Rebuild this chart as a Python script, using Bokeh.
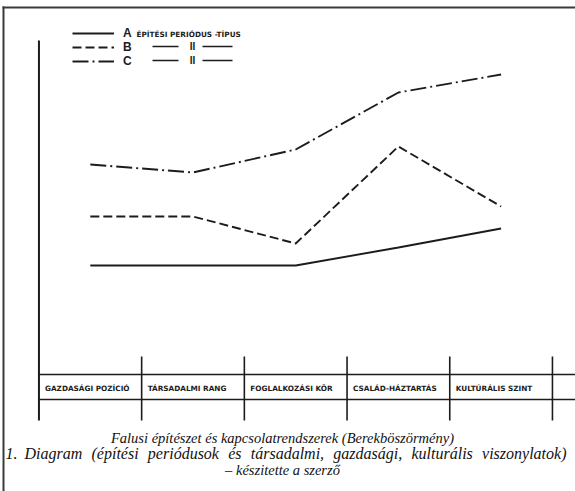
from bokeh.plotting import figure
from bokeh.models import Range1d, Legend, LegendItem
from bokeh.embed import file_html
from bokeh.resources import INLINE
from bokeh.core.properties import value

# ---- data ----
categories = ["GAZDASÁGI POZÍCIÓ", "TÁRSADALMI RANG", "FOGLALKOZÁSI KÖR",
              "CSALÁD-HÁZTARTÁS", "KULTÚRÁLIS SZINT"]
series_a = [11.0, 11.0, 11.0, 12.8, 14.7]
series_b = [15.9, 15.9, 13.2, 22.9, 16.9]
series_c = [21.1, 20.3, 22.6, 28.3, 30.1]
series_names = ["A", "B", "C"]
legend_title = "ÉPÍTÉSI PERIÓDUS -TÍPUS"
caption_lines = [
    "Falusi építészet és kapcsolatrendszerek (Berekböszörmény)",
    "1. Diagram (építési periódusok és társadalmi, gazdasági, kulturális viszonylatok)",
    "– készitette a szerző",
]

# ---- layout helpers (page pixel -> data) ----
W, H = 575, 491
CX, DX = 295.2, 102.7     # page x of category index 2, spacing per category
BASE, UNIT = 375.0, 10.0  # page y of value 0, pixels per unit


def X(px):
    return 2 + (px - CX) / DX


def Y(py):
    return (BASE - py) / UNIT


# approximate Times-Italic advance widths (per 1000 em) for justifying caption line 2
TI = {" ": 250, "(": 333, ")": 333, ",": 250, ".": 250, "1": 500,
      "a": 500, "b": 500, "c": 444, "d": 500, "e": 444, "f": 278, "g": 500, "h": 500,
      "i": 278, "k": 444, "l": 278, "m": 722, "n": 500, "o": 500, "p": 500, "r": 389,
      "s": 389, "t": 278, "u": 500, "v": 444, "y": 444, "z": 389, "D": 722,
      "é": 444, "í": 278, "ó": 500, "á": 500}


def tw(s, size):
    return sum(TI.get(c, 500) for c in s) * size / 1000.0


INK = "#1c1c1c"
idx = list(range(len(categories)))

p = figure(width=W, height=H, output_backend="svg", toolbar_location=None,
           x_range=Range1d(X(0), X(W)), y_range=Range1d(Y(H), Y(0)),
           min_border=0)
p.xaxis.visible = False
p.yaxis.visible = False
p.grid.visible = False
p.outline_line_color = None
p.background_fill_color = "white"
p.border_fill_color = "white"

# frame (top and left)
p.segment(x0=[X(2), X(3)], y0=[Y(7), Y(6)], x1=[X(W), X(3)], y1=[Y(7), Y(H)],
          line_color="#3a3a3a", line_width=2)

# vertical axis and table
bounds = [i - 0.5 for i in range(len(categories) + 1)]
p.segment(x0=[bounds[0]], y0=[Y(40)], x1=[bounds[0]], y1=[Y(420)], line_color=INK, line_width=2)
p.segment(x0=bounds[1:], y0=[Y(356)] * (len(bounds) - 1), x1=bounds[1:],
          y1=[Y(420)] * (len(bounds) - 1), line_color=INK, line_width=1.6)
p.segment(x0=[bounds[0]] * 2, y0=[Y(374), Y(399)], x1=[X(W)] * 2, y1=[Y(374), Y(399)],
          line_color=INK, line_width=1.6)
p.text(x=[b + 6 / DX for b in bounds[:-1]], y=[Y(387.5)] * len(categories), text=categories,
       text_font=value("DejaVu Sans"), text_font_style="bold", text_font_size="7.3px",
       text_color=INK, text_baseline="middle", text_align="left")

# series
ra = p.line(idx, series_a, line_color=INK, line_width=1.9)
rb = p.line(idx, series_b, line_color=INK, line_width=1.9, line_dash="9 4")
rc = p.line(idx, series_c, line_color=INK, line_width=1.9, line_dash="16 4 2 4")

legend = Legend(items=[LegendItem(label=n, renderers=[r]) for n, r in zip(series_names, [ra, rb, rc])],
                location=(72, H - 68), orientation="vertical",
                glyph_width=42, glyph_height=12, label_height=12, spacing=0,
                label_standoff=9, padding=0, margin=0,
                border_line_color=None, background_fill_alpha=0,
                label_text_font="Liberation Sans", label_text_font_style="bold",
                label_text_font_size="12px", label_text_color=INK)
p.add_layout(legend)

p.text(x=[X(136)], y=[Y(33.5)], text=[legend_title], text_font=value("DejaVu Sans"),
       text_font_style="bold", text_font_size="7.3px", text_color=INK,
       text_baseline="middle", text_align="left")
# ditto marks
for py in (46, 60):
    p.segment(x0=[X(152), X(202)], y0=[Y(py)] * 2, x1=[X(178), X(232)], y1=[Y(py)] * 2,
              line_color=INK, line_width=1.6)
p.text(x=[X(192), X(192)], y=[Y(46), Y(60)], text=["II", "II"], text_font=value("Liberation Sans"),
       text_font_style="bold", text_font_size="10px", text_color=INK,
       text_baseline="middle", text_align="center")

# caption
FS = 14.5
cap_font = dict(text_font=value("Liberation Serif"), text_font_style="italic",
                text_color="#111", text_baseline="middle")
p.text(x=[X(282)] * 2, y=[Y(437), Y(469)], text=[caption_lines[0], caption_lines[2]],
       text_align="center", text_font_size=f"{FS}px", **cap_font)
# line 2 spans the full column width (justified)
FS2 = 16
words = caption_lines[1].split()
left, start, right = 5.0, 24.0, 566.0
rest = words[1:]
gap = (right - start - sum(tw(w, FS2) for w in rest)) / (len(rest) - 1)
xs = [left]
cur = start
for w in rest:
    xs.append(cur)
    cur += tw(w, FS2) + gap
p.text(x=[X(v) for v in xs], y=[Y(453)] * len(words), text=words, text_align="left",
       text_font_size=f"{FS2}px", **cap_font)

open("out.html", "w").write(file_html(p, INLINE))
